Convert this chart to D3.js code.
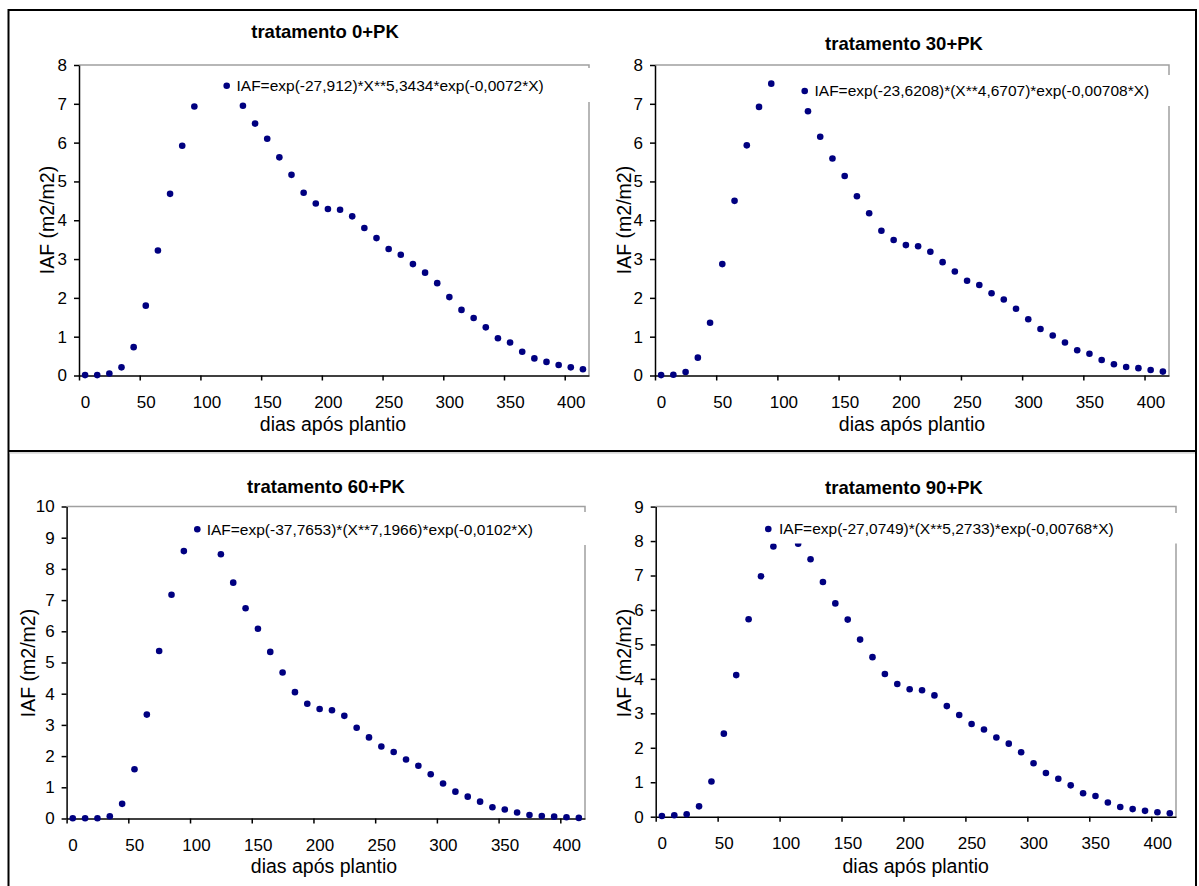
<!DOCTYPE html>
<html>
<head>
<meta charset="utf-8">
<script src="https://cdn.jsdelivr.net/npm/d3@7"></script>
<style>
  body { margin: 0; background: #fff; }
  svg text { font-family: "Liberation Sans", Arial, sans-serif; fill: #000; }
</style>
</head>
<body>
<svg id="chart" width="1199" height="886"></svg>
<script>
// x values (days after planting), shared by all four panels
const days = [5, 15, 25, 35, 45, 55, 65, 75, 85, 95, 105, 115, 125, 135, 145, 155, 165, 175, 185, 195,
              205, 215, 225, 235, 245, 255, 265, 275, 285, 295, 305, 315, 325, 335, 345, 355, 365, 375,
              385, 395, 405, 415];

// IAF values (null = hidden under the legend)
const iaf0 = [0.01, 0.01, 0.05, 0.21, 0.73, 1.80, 3.22, 4.68, 5.92, 6.93, null, null, null, 6.95, 6.49, 6.10,
              5.62, 5.17, 4.71, 4.43, 4.29, 4.27, 4.10, 3.80, 3.54, 3.26, 3.11, 2.87, 2.65, 2.38, 2.02, 1.69,
              1.48, 1.24, 0.96, 0.85, 0.61, 0.44, 0.35, 0.27, 0.21, 0.16];
const iaf30 = [0.01, 0.02, 0.09, 0.46, 1.36, 2.87, 4.50, 5.93, 6.92, 7.52, null, null, 6.81, 6.15, 5.59, 5.14,
               4.62, 4.18, 3.73, 3.49, 3.36, 3.33, 3.19, 2.92, 2.68, 2.44, 2.33, 2.12, 1.96, 1.72, 1.45, 1.20,
               1.03, 0.85, 0.65, 0.56, 0.40, 0.29, 0.22, 0.19, 0.14, 0.10];
const iaf60 = [0.01, 0.01, 0.01, 0.07, 0.47, 1.58, 3.33, 5.37, 7.17, 8.57, null, null, 8.47, 7.56, 6.74, 6.08,
               5.34, 4.68, 4.05, 3.68, 3.51, 3.47, 3.29, 2.91, 2.60, 2.31, 2.13, 1.89, 1.69, 1.42, 1.12, 0.86,
               0.70, 0.54, 0.36, 0.29, 0.19, 0.11, 0.08, 0.06, 0.04, 0.02];
const iaf90 = [0.02, 0.04, 0.07, 0.30, 1.02, 2.41, 4.11, 5.73, 6.98, 7.84, null, 7.92, 7.47, 6.81, 6.19, 5.72,
               5.14, 4.63, 4.14, 3.85, 3.70, 3.67, 3.52, 3.21, 2.95, 2.69, 2.53, 2.30, 2.12, 1.87, 1.55, 1.27,
               1.10, 0.91, 0.68, 0.60, 0.41, 0.28, 0.22, 0.17, 0.13, 0.10];

const titles = ['tratamento 0+PK', 'tratamento 30+PK', 'tratamento 60+PK', 'tratamento 90+PK'];
const equations = [
  'IAF=exp(-27,912)*X**5,3434*exp(-0,0072*X)',
  'IAF=exp(-23,6208)*(X**4,6707)*exp(-0,00708*X)',
  'IAF=exp(-37,7653)*(X**7,1966)*exp(-0,0102*X)',
  'IAF=exp(-27,0749)*(X**5,2733)*exp(-0,00768*X)'
];
const yMaxes = [8, 8, 10, 9];
const xTicks = [0, 50, 100, 150, 200, 250, 300, 350, 400];
const xLabel = 'dias após plantio';
const yLabel = 'IAF (m2/m2)';

// panel placement on the page
const panels = [
  { values: iaf0,  left: 79,    right: 589,  top: 65,    bottom: 375.5,
    title: [325, 37.5], ylab: [54, 220], xlab: [333, 430.5],
    legend: { x0: 200, y0: 68, x1: 595, y1: 102, mx: 226.7, my: 85.7, tx: 236.5 } },
  { values: iaf30, left: 655,   right: 1169, top: 65,    bottom: 375.5,
    title: [904, 50], ylab: [631, 220], xlab: [912, 430.5],
    legend: { x0: 777, y0: 75, x1: 1176, y1: 106, mx: 804.7, my: 91, tx: 814.5 } },
  { values: iaf60, left: 66.6,  right: 585,  top: 506.5, bottom: 818.5,
    title: [326, 493], ylab: [35, 663], xlab: [324, 873],
    legend: { x0: 185, y0: 512, x1: 592, y1: 545, mx: 197.3, my: 529.3, tx: 206.7 } },
  { values: iaf90, left: 655.7, right: 1176, top: 506.6, bottom: 816.7,
    title: [904, 494], ylab: [631, 663], xlab: [915.7, 873],
    legend: { x0: 758, y0: 513, x1: 1183, y1: 543.5, mx: 768.3, my: 529, tx: 779 } }
];

const svg = d3.select('#chart');
const dotColor = '#000080';

// outer frame
svg.append('path')
  .attr('d', 'M8.5,886 V10 H1196 V886')
  .attr('fill', 'none').attr('stroke', '#000').attr('stroke-width', 2);
svg.append('line').attr('x1', 8.5).attr('x2', 1196).attr('y1', 451).attr('y2', 451)
  .attr('stroke', '#000').attr('stroke-width', 2);
svg.append('line').attr('x1', 9.5).attr('x2', 1195).attr('y1', 452.8).attr('y2', 452.8)
  .attr('stroke', '#c8c8c8').attr('stroke-width', 1.2);

panels.forEach((p, i) => {
  const x = d3.scaleLinear().domain([0, 420]).range([p.left, p.right]);
  const y = d3.scaleLinear().domain([0, yMaxes[i]]).range([p.bottom, p.top]);
  const g = svg.append('g');

  // gray top/right border of plot area
  g.append('path')
    .attr('d', `M${p.left},${p.top} H${p.right} V${p.bottom}`)
    .attr('fill', 'none').attr('stroke', '#a0a0a0').attr('stroke-width', 1.5);

  // y axis
  const ya = g.append('g')
    .attr('transform', `translate(${p.left},0)`)
    .call(d3.axisLeft(y).ticks(yMaxes[i]).tickSize(5).tickSizeOuter(0).tickPadding(7));
  ya.select('.domain').attr('stroke-width', 1.5);
  ya.selectAll('.tick line').attr('stroke-width', 1.5);
  ya.selectAll('.tick text').style('font-size', '17px');

  // x axis
  const xa = g.append('g')
    .attr('transform', `translate(0,${p.bottom})`)
    .call(d3.axisBottom(x).tickValues(xTicks).tickSize(5).tickSizeOuter(0).tickPadding(15));
  xa.select('.domain').attr('stroke-width', 1.5);
  xa.selectAll('.tick line').attr('stroke-width', 1.5);
  xa.selectAll('.tick text').style('font-size', '17px').attr('x', 6);

  // points
  const pts = days.map((d, k) => [d, p.values[k]]).filter(d => d[1] !== null);
  g.selectAll('circle.pt')
    .data(pts)
    .enter()
    .append('circle')
    .attr('class', 'pt')
    .attr('cx', d => x(d[0]))
    .attr('cy', d => y(d[1]))
    .attr('r', 3.3)
    .attr('fill', dotColor);

  // legend (white box over the plot)
  const lg = p.legend;
  g.append('rect')
    .attr('x', lg.x0).attr('y', lg.y0)
    .attr('width', lg.x1 - lg.x0).attr('height', lg.y1 - lg.y0)
    .attr('fill', '#fff');
  g.append('circle').attr('cx', lg.mx).attr('cy', lg.my).attr('r', 3.3).attr('fill', dotColor);
  g.append('text')
    .attr('x', lg.tx).attr('y', lg.my).attr('dy', '0.35em')
    .style('font-size', '15.5px')
    .text(equations[i]);

  // titles
  g.append('text')
    .attr('x', p.title[0]).attr('y', p.title[1])
    .attr('text-anchor', 'middle')
    .style('font-size', '18.5px').style('font-weight', 'bold')
    .text(titles[i]);
  g.append('text')
    .attr('x', p.xlab[0]).attr('y', p.xlab[1])
    .attr('text-anchor', 'middle')
    .style('font-size', '19.5px')
    .text(xLabel);
  g.append('text')
    .attr('transform', `translate(${p.ylab[0]},${p.ylab[1]}) rotate(-90)`)
    .attr('text-anchor', 'middle')
    .style('font-size', '19.5px')
    .text(yLabel);
});
</script>
</body>
</html>
